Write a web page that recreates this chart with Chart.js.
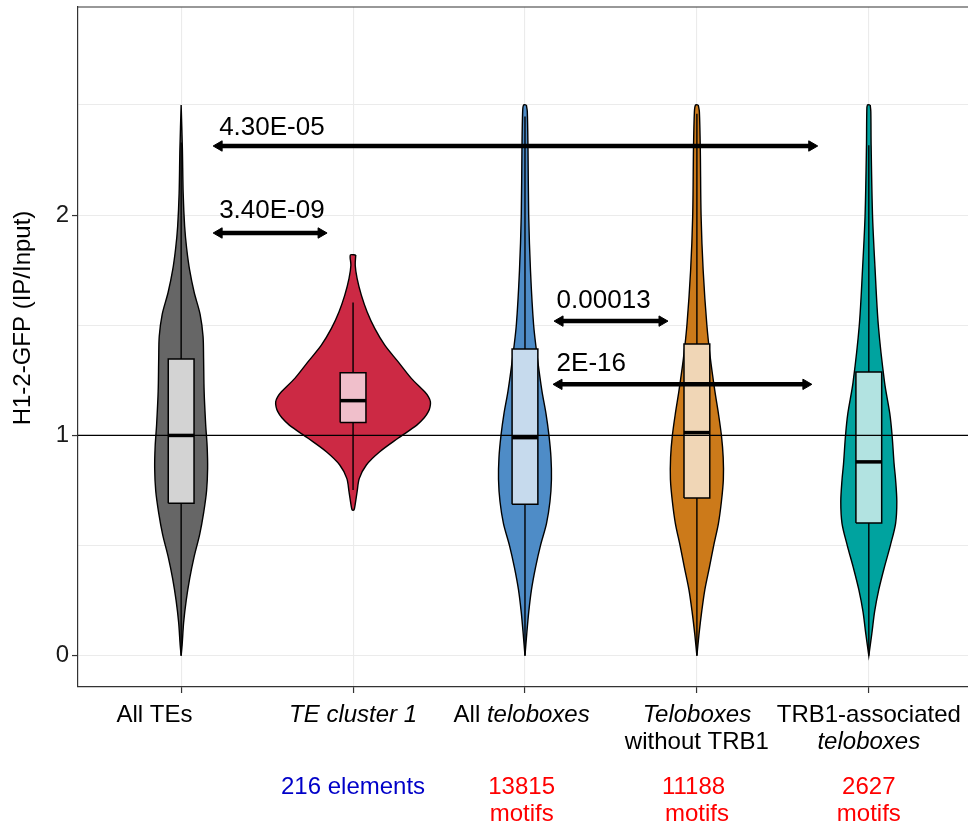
<!DOCTYPE html>
<html><head><meta charset="utf-8">
<script src="https://cdn.jsdelivr.net/npm/chart.js@4.4.0/dist/chart.umd.min.js"></script>
<style>html,body{margin:0;padding:0;background:#fff;overflow:hidden;}#wrap{width:968px;height:831px;overflow:hidden;}canvas{display:block;}</style>
</head><body><div id="wrap"><canvas id="c" width="968" height="831"></canvas></div>
<script>
// ---------- data ----------
const categories = ['All TEs', 'TE cluster 1', 'All teloboxes', 'Teloboxes without TRB1', 'TRB1-associated teloboxes'];
const tickLabelLines = [['All TEs        '], ['*TE cluster 1*'], ['All *teloboxes* '], ['*Teloboxes*', 'without TRB1'], ['TRB1-associated', '*teloboxes*']];
const countLabels = [[], ['216 elements'], ['13815 ', 'motifs '], ['11188 ', 'motifs'], ['2627', 'motifs']];
const countKinds = ['none', 'elements', 'motifs', 'motifs', 'motifs'];
const yTickValues = [0, 0.5, 1, 1.5, 2, 2.5];
const yTickLabels = ['0', '', '1', '', '2', ''];
const yAxisTitle = 'H1-2-GFP (IP/Input)';

// violin density profiles (value, relative half-width)
const allTEsY = [2.5, 2.3, 2.1, 1.95, 1.85, 1.75, 1.65, 1.55, 1.45, 1.35, 1.2, 1.05, 0.95, 0.85, 0.75, 0.65, 0.55, 0.45, 0.35, 0.25, 0.15, 0.05, 0];
const allTEsW = [0, .016, .026, .045, .071, .110, .168, .245, .283, .290, .297, .317, .336, .342, .329, .291, .239, .168, .110, .065, .032, .013, 0];
const cluster1Y = [1.819, 1.773, 1.713, 1.637, 1.562, 1.486, 1.41, 1.335, 1.259, 1.198, 1.175, 1.153, 1.13, 1.108, 1.08, 1.047, 0.987, 0.926, 0.866, 0.805, 0.744, 0.684, 0.662];
const cluster1W = [.035, .028, .052, .107, .181, .280, .410, .581, .753, .926, .975, 1.0, .995, .973, .92, .824, .581, .345, .172, .081, .052, .026, .012];
const teloAllY = [2.5, 2.47, 2.3, 2.0, 1.75, 1.5, 1.35, 1.2, 1.1, 1.0, 0.9, 0.8, 0.7, 0.6, 0.5, 0.4, 0.3, 0.2, 0.1, 0];
const teloAllW = [.018, .030, .039, .048, .071, .112, .161, .220, .271, .310, .336, .342, .323, .278, .200, .136, .084, .049, .023, 0];
const teloNoTrbY = [2.5, 2.47, 2.3, 2.0, 1.75, 1.5, 1.35, 1.2, 1.1, 1.0, 0.9, 0.8, 0.7, 0.6, 0.5, 0.4, 0.3, 0.2, 0.1, 0];
const teloNoTrbW = [.018, .032, .044, .054, .081, .129, .174, .233, .278, .317, .340, .342, .317, .278, .217, .161, .103, .062, .028, 0];
const teloTrbY = [2.5, 2.47, 2.317, 2.0, 1.762, 1.5, 1.24, 1.1, 1.0, 0.87, 0.8, 0.7, 0.6, 0.5, 0.4, 0.3, 0.2, 0.1, 0];
const teloTrbW = [.018, .026, .030, .048, .080, .123, .204, .271, .301, .327, .346, .362, .346, .278, .200, .129, .075, .039, 0];

// box plot statistics
const boxQ1 = [0.692, 1.059, 0.688, 0.716, 0.602];
const boxMedian = [1.0, 1.158, 0.99, 1.013, 0.88];
const boxQ3 = [1.347, 1.285, 1.392, 1.415, 1.288];
const whiskerLow = [0, 0.752, 0, 0, 0];
const whiskerHigh = [2.33, 1.604, 2.448, 2.46, 2.317];

// significance arrows
const arrowLabels = ['4.30E-05', '3.40E-09', '0.00013', '2E-16'];
const arrowY = [2.314, 1.919, 1.519, 1.232];
const arrowFrom = [1.221, 1.221, 3.204, 3.198];
const arrowTo = [4.668, 1.814, 3.797, 4.634];
const arrowLabelX = [1.221, 1.221, 3.184, 3.184];
const arrowLabelY = [2.364, 1.985, 1.577, 1.294];

const referenceLine = 1;

// ---------- styling ----------
const FONT = "'Liberation Sans', Arial, Helvetica, sans-serif";
const violinColors = ['#666666', '#CC2944', '#4E8CC7', '#CC7A1A', '#00A39F'];
const boxColors = ['#D3D3D3', '#F0BFCB', '#C6DAED', '#F0D6B6', '#B2E3E1'];
const countColorMap = {none: '#000', elements: '#0000C8', motifs: '#FF0000'};
const VIOLIN_HALF = 0.45, BOX_HALF = 0.075;
const X_MIN = 0.4, X_MAX = 5.577, Y_MIN = -0.142, Y_MAX = 2.945;

const violinYs = [allTEsY, cluster1Y, teloAllY, teloNoTrbY, teloTrbY];
const violinWs = [allTEsW, cluster1W, teloAllW, teloNoTrbW, teloTrbW];

const datasets = [];
categories.forEach((cat, i) => {
  const c = i + 1, ys = violinYs[i], ws = violinWs[i];
  const pts = [];
  for (let k = 0; k < ys.length; k++) pts.push({x: c + ws[k] * VIOLIN_HALF, y: ys[k]});
  for (let k = ys.length - 1; k >= 0; k--) pts.push({x: c - ws[k] * VIOLIN_HALF, y: ys[k]});
  pts.push({x: pts[0].x, y: pts[0].y});
  datasets.push({label: cat + ' violin', data: pts, order: 10, fill: 'shape', tension: 0.3,
    backgroundColor: violinColors[i], borderColor: '#000', borderWidth: 1.4, pointRadius: 0});
  datasets.push({label: cat + ' whisker', data: [{x: c, y: whiskerLow[i]}, {x: c, y: whiskerHigh[i]}], order: 9,
    fill: false, borderColor: '#000', borderWidth: 1.4, pointRadius: 0});
  datasets.push({label: cat + ' box', data: [
      {x: c - BOX_HALF, y: boxQ1[i]}, {x: c + BOX_HALF, y: boxQ1[i]}, {x: c + BOX_HALF, y: boxQ3[i]},
      {x: c - BOX_HALF, y: boxQ3[i]}, {x: c - BOX_HALF, y: boxQ1[i]}],
    order: 8, fill: 'shape', tension: 0, backgroundColor: boxColors[i], borderColor: '#000', borderWidth: 1.5,
    borderJoinStyle: 'miter', pointRadius: 0});
  datasets.push({label: cat + ' median', data: [{x: c - BOX_HALF, y: boxMedian[i]}, {x: c + BOX_HALF, y: boxMedian[i]}],
    order: 7, fill: false, borderColor: '#000', borderWidth: 3.5, pointRadius: 0});
});
datasets.push({label: 'reference', data: [{x: X_MIN, y: referenceLine}, {x: X_MAX, y: referenceLine}], order: 6,
  fill: false, borderColor: '#000', borderWidth: 1.3, pointRadius: 0});
arrowLabels.forEach((lab, i) => {
  datasets.push({label: 'p = ' + lab, data: [{x: arrowFrom[i], y: arrowY[i]}, {x: arrowTo[i], y: arrowY[i]}], order: 5,
    fill: false, borderColor: '#000', borderWidth: 4.5, pointStyle: 'triangle', pointRadius: 6,
    pointRotation: [270, 90], pointBackgroundColor: '#000', pointBorderColor: '#000', pointBorderWidth: 1});
});

// ---------- plugins ----------
const panelTop = {
  id: 'panelTop',
  afterDraw(chart) {
    const {ctx, chartArea: a} = chart;
    ctx.save(); ctx.strokeStyle = '#333'; ctx.lineWidth = 1.2;
    ctx.beginPath(); ctx.moveTo(a.left, a.top); ctx.lineTo(a.right, a.top); ctx.stroke(); ctx.restore();
  }
};
function drawRich(ctx, text, cx, y, size, color) {
  const parts = text.split('*');
  const segs = parts.map((t, k) => ({t, italic: k % 2 === 1})).filter(s => s.t.length);
  let total = 0;
  segs.forEach(s => { ctx.font = (s.italic ? 'italic ' : '') + size + 'px ' + FONT; s.w = ctx.measureText(s.t).width; total += s.w; });
  let x = cx - total / 2;
  ctx.fillStyle = color; ctx.textAlign = 'left'; ctx.textBaseline = 'alphabetic';
  segs.forEach(s => { ctx.font = (s.italic ? 'italic ' : '') + size + 'px ' + FONT; ctx.fillText(s.t, x, y); x += s.w; });
}
const xLabels = {
  id: 'xLabels',
  afterDraw(chart) {
    const {ctx, scales: {x}, chartArea: a} = chart;
    ctx.save();
    categories.forEach((cat, i) => {
      const cx = x.getPixelForValue(i + 1);
      tickLabelLines[i].forEach((ln, k) => drawRich(ctx, ln, cx, a.bottom + 35 + k * 26.6, 24, '#000'));
      countLabels[i].forEach((ln, k) => drawRich(ctx, ln, cx, a.bottom + 107 + k * 27, 24, countColorMap[countKinds[i]]));
    });
    ctx.restore();
  }
};
const yTitle = {
  id: 'yTitle',
  afterDraw(chart) {
    const {ctx} = chart;
    ctx.save(); ctx.translate(23, 318); ctx.rotate(-Math.PI / 2);
    ctx.font = '24px ' + FONT; ctx.fillStyle = '#000'; ctx.textAlign = 'center'; ctx.textBaseline = 'middle';
    ctx.fillText(yAxisTitle, 0, 0); ctx.restore();
  }
};
const arrowText = {
  id: 'arrowText',
  afterDatasetsDraw(chart) {
    const {ctx, scales: {x, y}} = chart;
    ctx.save(); ctx.font = '26px ' + FONT; ctx.fillStyle = '#000'; ctx.textAlign = 'left'; ctx.textBaseline = 'alphabetic';
    arrowLabels.forEach((lab, i) => ctx.fillText(lab, x.getPixelForValue(arrowLabelX[i]), y.getPixelForValue(arrowLabelY[i])));
    ctx.restore();
  }
};

new Chart(document.getElementById('c'), {
  type: 'line',
  data: {datasets},
  options: {
    responsive: false, animation: false, events: [],
    layout: {autoPadding: false, padding: {top: 7, left: 0, right: 0, bottom: 0}},
    plugins: {legend: {display: false}, tooltip: {enabled: false}},
    scales: {
      x: {
        type: 'linear', min: X_MIN, max: X_MAX,
        afterBuildTicks: s => { s.ticks = categories.map((_, i) => ({value: i + 1})); },
        ticks: {callback: () => '', autoSkip: false, maxRotation: 0},
        grid: {color: '#EBEBEB', lineWidth: 1.1, tickColor: '#333', tickLength: 6, tickWidth: 1.2},
        border: {color: '#333', width: 1.2},
        afterFit: s => { s.height = 144; s.paddingLeft = 0; s.paddingRight = 0; }
      },
      y: {
        type: 'linear', min: Y_MIN, max: Y_MAX,
        afterBuildTicks: s => { s.ticks = yTickValues.map(v => ({value: v})); },
        ticks: {callback: (v, i) => yTickLabels[i], font: {family: FONT, size: 24}, color: '#1a1a1a', padding: 3, autoSkip: false},
        grid: {color: '#EBEBEB', lineWidth: 1.1, tickLength: 6, tickWidth: 1.2,
          tickColor: ctx => (ctx.tick && Number.isInteger(ctx.tick.value)) ? '#333' : 'rgba(0,0,0,0)'},
        border: {color: '#333', width: 1.2},
        afterFit: s => { s.width = 78; s.paddingTop = 0; s.paddingBottom = 0; s.paddingLeft = 0; s.paddingRight = 0; }
      }
    }
  },
  plugins: [panelTop, xLabels, yTitle, arrowText]
});
</script></body></html>
